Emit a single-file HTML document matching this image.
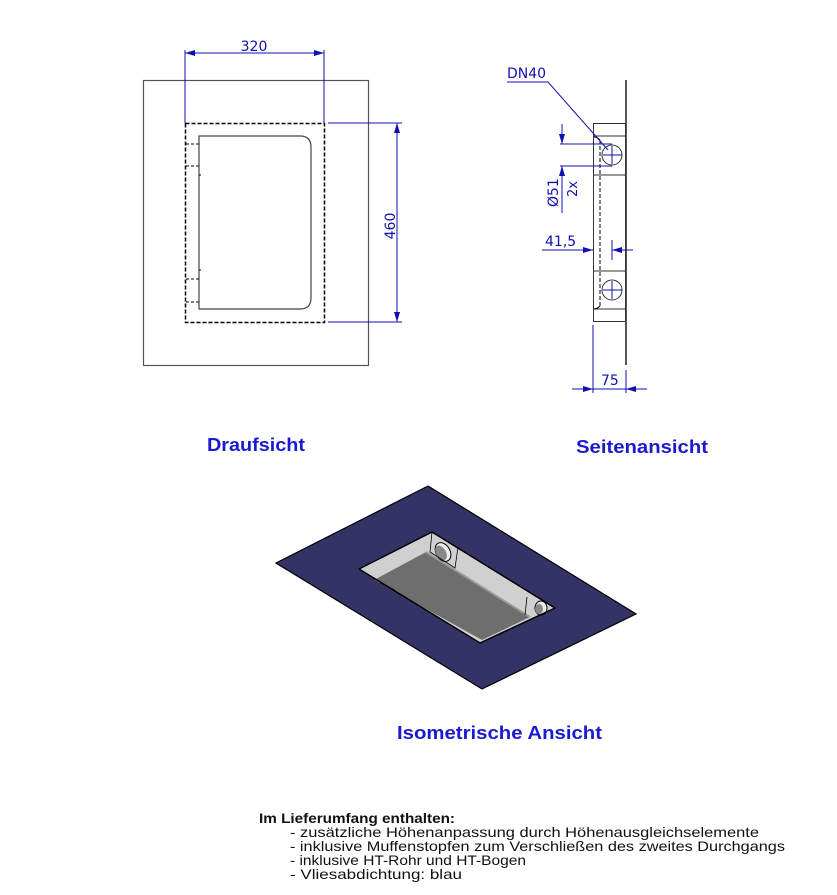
<!DOCTYPE html>
<html><head><meta charset="utf-8"><style>
body{margin:0;background:#fff;}
svg{display:block;font-family:"Liberation Sans",sans-serif;}
.t{font-family:"DejaVu Sans","Liberation Sans",sans-serif;}
</style></head><body>
<svg width="837" height="895" viewBox="0 0 837 895" xmlns="http://www.w3.org/2000/svg">
<defs>
<marker id="a" viewBox="0 0 10 6" refX="10" refY="3" markerWidth="10" markerHeight="6" orient="auto-start-reverse" markerUnits="userSpaceOnUse"><path d="M0,0L10,3L0,6z" fill="#1010b0"/></marker>
</defs>
<!-- Draufsicht -->
<rect x="143.5" y="80.5" width="225" height="285" fill="none" stroke="#555" stroke-width="1.2"/>
<rect x="185.5" y="123.5" width="139" height="199" fill="none" stroke="#000" stroke-width="1.5" stroke-dasharray="4,2"/>
<path d="M199,136H300Q311,136 311,147V298Q311,309 300,309H199Z" fill="none" stroke="#444" stroke-width="1.2"/>
<g stroke="#000" stroke-width="1" stroke-dasharray="3,2" fill="none">
<path d="M186,144H199M186,166H199M186,279H199M186,302H199"/>
</g>
<path d="M199,175H201M199,270H201" stroke="#000"/>
<g stroke="#1010b0" stroke-width="1" fill="none">
<path d="M185,50V123M324,50V123"/>
<path d="M185,53H324" marker-start="url(#a)" marker-end="url(#a)"/>
<path d="M328,123H402M328,322H402"/>
<path d="M397,123V322" marker-start="url(#a)" marker-end="url(#a)"/>
</g>
<text x="254" y="51" font-size="14" fill="#1010b0" text-anchor="middle" class="t">320</text>
<text x="0" y="0" font-size="14" fill="#1010b0" text-anchor="middle" class="t" transform="translate(395,226) rotate(-90)">460</text>
<!-- Seitenansicht -->
<path d="M626,80V365" stroke="#222" stroke-width="1.5"/>
<rect x="593.5" y="123.5" width="32" height="198" fill="none" stroke="#333" stroke-width="1"/>
<path d="M593,136H626M593,175H626M593,271H626M593,309H626" stroke="#333"/>
<path d="M600,140V306" stroke="#000" stroke-dasharray="4,2"/>
<path d="M600,140Q597,137 594,137M600,306Q597,309 594,309" stroke="#000" fill="none"/>
<circle cx="612" cy="155" r="10" fill="none" stroke="#333"/>
<circle cx="612" cy="290" r="10" fill="none" stroke="#333"/>
<g stroke="#1010b0" stroke-width="1" fill="none">
<path d="M603,155H622M612,146V164M603,290H622M612,281V299"/>
<path d="M507,82H548L608,150"/>
<path d="M560,144H612M560,166H612"/>
<path d="M562,124V144" marker-end="url(#a)"/>
<path d="M562,213V166" marker-end="url(#a)"/>
<path d="M542,250H593" marker-end="url(#a)"/>
<path d="M633,250H612" marker-end="url(#a)"/>
<path d="M612,240V260"/>
<path d="M593,325V393M626,370V393"/>
<path d="M572,389H593" marker-end="url(#a)"/>
<path d="M647,389H626" marker-end="url(#a)"/>
<path d="M593,389H626"/>
</g>
<text x="507" y="78" font-size="14" fill="#1010b0" class="t">DN40</text>
<text x="0" y="0" font-size="14" fill="#1010b0" class="t" transform="translate(558,207) rotate(-90)">Ø51</text>
<text x="0" y="0" font-size="13" fill="#1010b0" class="t" transform="translate(577,197) rotate(-90)">2x</text>
<text x="545" y="246" font-size="14" fill="#1010b0" class="t">41,5</text>
<text x="601" y="385" font-size="14" fill="#1010b0" class="t">75</text>
<!-- Isometric -->
<polygon points="428,486 636,614 482,689 276,563" fill="#343366" stroke="#000" stroke-width="1.2"/>
<polygon points="432,532 555,608 480,643 359,569" fill="#d0d0d0"/>
<polygon points="374,580 426,552 530,617 482,640" fill="#6e6e6e"/>
<path d="M426,552L530,617" stroke="#999" stroke-width="2"/>
<ellipse cx="443" cy="552" rx="7" ry="10" transform="rotate(-30 443 552)" fill="#eee" stroke="#000"/>
<ellipse cx="441" cy="553" rx="5" ry="8" transform="rotate(-30 441 553)" fill="#888"/>
<ellipse cx="541" cy="608" rx="6" ry="7" fill="#eee" stroke="#000"/>
<ellipse cx="539" cy="609" rx="4" ry="5" fill="#888"/>
<path d="M432,532L430,552L455,568L458,547M527,597L525,615" fill="none" stroke="#000" stroke-width="0.8"/>
<path d="M380,583L395,590" stroke="#222" stroke-width="0.8"/>
<polygon points="432,532 555,608 480,643 359,569" fill="none" stroke="#000" stroke-width="1.5" stroke-linejoin="round"/>
<!-- Labels -->
<g font-weight="bold" font-size="18" fill="#1a1ad0">
<text x="207" y="451" textLength="98" lengthAdjust="spacingAndGlyphs">Draufsicht</text>
<text x="576" y="453" textLength="132" lengthAdjust="spacingAndGlyphs">Seitenansicht</text>
<text x="397" y="739" textLength="205" lengthAdjust="spacingAndGlyphs">Isometrische Ansicht</text>
</g>
<g font-size="14" fill="#111">
<text x="259" y="823" font-weight="bold" textLength="196" lengthAdjust="spacingAndGlyphs">Im Lieferumfang enthalten:</text>
<text x="290" y="837" textLength="469" lengthAdjust="spacingAndGlyphs">- zusätzliche Höhenanpassung durch Höhenausgleichselemente</text>
<text x="290" y="851" textLength="495" lengthAdjust="spacingAndGlyphs">- inklusive Muffenstopfen zum Verschließen des zweites Durchgangs</text>
<text x="290" y="865" textLength="236" lengthAdjust="spacingAndGlyphs">- inklusive HT-Rohr und HT-Bogen</text>
<text x="290" y="879" textLength="172" lengthAdjust="spacingAndGlyphs">- Vliesabdichtung: blau</text>
</g>
</svg>
</body></html>
